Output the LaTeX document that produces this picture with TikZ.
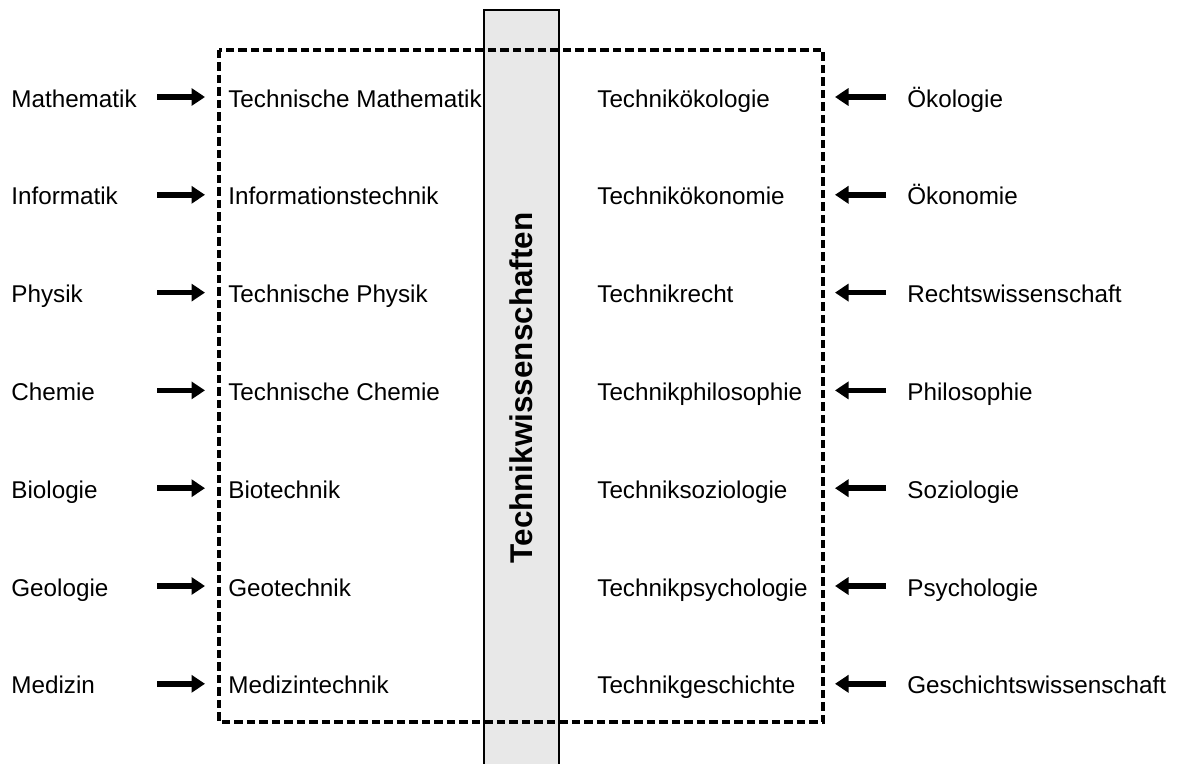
\documentclass[tikz,border=0pt]{standalone}
\usepackage{fontspec}
\setmainfont{Liberation Sans}
\usepackage{xcolor}
\usetikzlibrary{arrows.meta}
\definecolor{barfill}{RGB}{232,232,232}

\begin{document}
\begin{tikzpicture}[
  x=0.02cm, y=-0.02cm,
  font=\fontsize{13.8}{16}\selectfont,
  >={Triangle[length=0.27cm,width=0.34cm]},
  % Text styles
  disc/.style={inner sep=0pt, text height=0.4cm, text depth=0pt, anchor=base west},
  field/.style={disc, inner xsep=0.46cm},
  source/.style={disc, inner xsep=0.42cm},
  arrow/.style={->, line width=0.11cm},
  frame/.style={line width=0.065cm, dash pattern=on 0.17cm off 0.08cm},
  bar/.style={draw, fill=barfill, line width=0.035cm}
]
\useasboundingbox (0,0) rectangle (1177,764);

% ── Central bar ──────────────────────────────────────────────────────────────
\draw[bar] (484,10) rectangle (559,770);
\node[rotate=90, font=\fontsize{17.9}{20}\selectfont\bfseries] (tw) at (521.5,388)
  {Technikwissenschaften};

% ── Dashed frame ─────────────────────────────────────────────────────────────
\draw[frame] (219,50) rectangle (823,722);

% ── Natural sciences (left) ──────────────────────────────────────────────────
\node[disc] (l1) at (11,107)   {Mathematik};
\node[disc] (l2) at (11,204.8) {Informatik};
\node[disc] (l3) at (11,302.6) {Physik};
\node[disc] (l4) at (11,400.4) {Chemie};
\node[disc] (l5) at (11,498.2) {Biologie};
\node[disc] (l6) at (11,596)   {Geologie};
\node[disc] (l7) at (11,693.8) {Medizin};

% ── Engineering fields (left of bar) ─────────────────────────────────────────
\node[field] (m1) at (205,107)   {Technische Mathematik};
\node[field] (m2) at (205,204.8) {Informationstechnik};
\node[field] (m3) at (205,302.6) {Technische Physik};
\node[field] (m4) at (205,400.4) {Technische Chemie};
\node[field] (m5) at (205,498.2) {Biotechnik};
\node[field] (m6) at (205,596)   {Geotechnik};
\node[field] (m7) at (205,693.8) {Medizintechnik};

% ── Engineering fields (right of bar) ────────────────────────────────────────
\node[disc] (n1) at (597,107)   {Technikökologie};
\node[disc] (n2) at (597,204.8) {Technikökonomie};
\node[disc] (n3) at (597,302.6) {Technikrecht};
\node[disc] (n4) at (597,400.4) {Technikphilosophie};
\node[disc] (n5) at (597,498.2) {Techniksoziologie};
\node[disc] (n6) at (597,596)   {Technikpsychologie};
\node[disc] (n7) at (597,693.8) {Technikgeschichte};

% ── Social sciences and humanities (right) ───────────────────────────────────
\node[source] (r1) at (886,107)   {Ökologie};
\node[source] (r2) at (886,204.8) {Ökonomie};
\node[source] (r3) at (886,302.6) {Rechtswissenschaft};
\node[source] (r4) at (886,400.4) {Philosophie};
\node[source] (r5) at (886,498.2) {Soziologie};
\node[source] (r6) at (886,596)   {Psychologie};
\node[source] (r7) at (886,693.8) {Geschichtswissenschaft};

% ── Arrows: left -> frame ────────────────────────────────────────────────────
\draw[arrow] ([xshift=-0.96cm]m1.west) -- (m1.west);
\draw[arrow] ([xshift=-0.96cm]m2.west) -- (m2.west);
\draw[arrow] ([xshift=-0.96cm]m3.west) -- (m3.west);
\draw[arrow] ([xshift=-0.96cm]m4.west) -- (m4.west);
\draw[arrow] ([xshift=-0.96cm]m5.west) -- (m5.west);
\draw[arrow] ([xshift=-0.96cm]m6.west) -- (m6.west);
\draw[arrow] ([xshift=-0.96cm]m7.west) -- (m7.west);

% ── Arrows: right -> frame ───────────────────────────────────────────────────
\draw[arrow] (r1.west) -- ([xshift=-1.02cm]r1.west);
\draw[arrow] (r2.west) -- ([xshift=-1.02cm]r2.west);
\draw[arrow] (r3.west) -- ([xshift=-1.02cm]r3.west);
\draw[arrow] (r4.west) -- ([xshift=-1.02cm]r4.west);
\draw[arrow] (r5.west) -- ([xshift=-1.02cm]r5.west);
\draw[arrow] (r6.west) -- ([xshift=-1.02cm]r6.west);
\draw[arrow] (r7.west) -- ([xshift=-1.02cm]r7.west);

\end{tikzpicture}
\end{document}
